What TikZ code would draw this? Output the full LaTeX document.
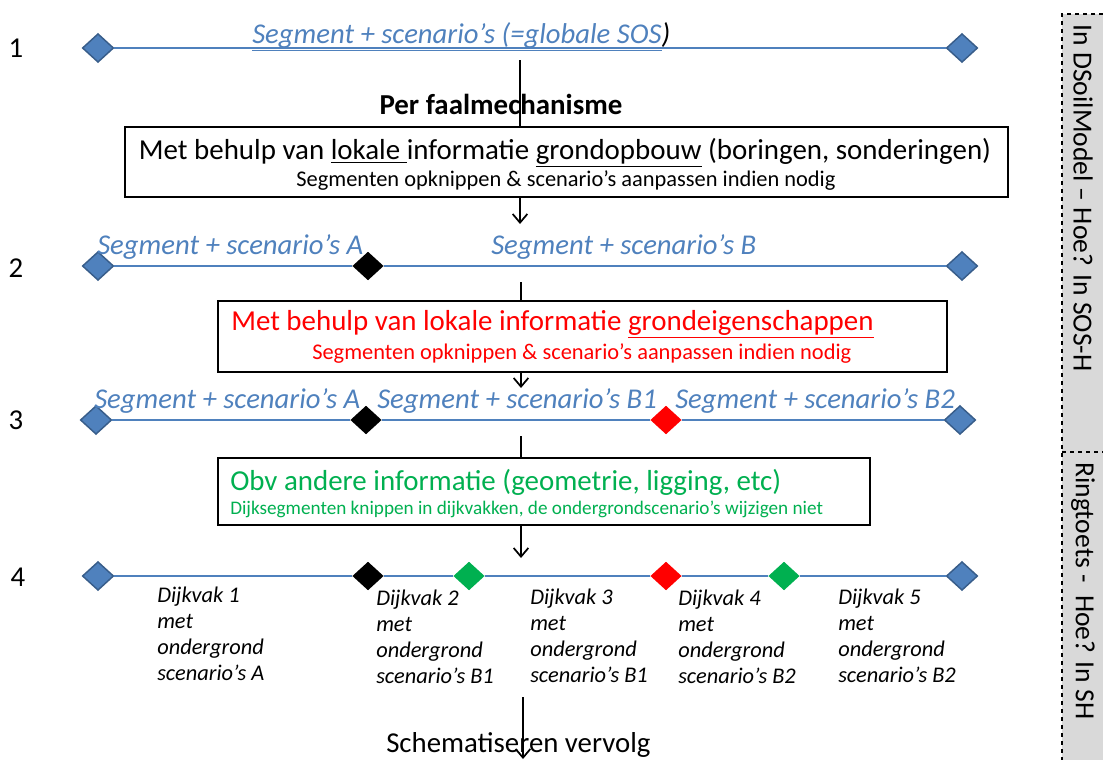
\documentclass[tikz,border=0pt]{standalone}
\usepackage{fontspec}
\setmainfont{Carlito}
\usetikzlibrary{shapes.geometric,arrows.meta}
\definecolor{segblue}{HTML}{4F81BD}
\definecolor{segborder}{HTML}{385D8A}
\definecolor{grn}{HTML}{00B050}
\definecolor{panel}{HTML}{D9D9D9}
\begin{document}
\begin{tikzpicture}[x=0.75pt,y=-0.75pt,
 dmd/.style={diamond,minimum width=23.5pt,minimum height=21.5pt,inner sep=0pt},
 bluedmd/.style={dmd,fill=segblue,draw=segborder,line width=1.1pt},
 blackdmd/.style={dmd,fill=black},
 reddmd/.style={dmd,fill=red},
 greendmd/.style={dmd,fill=grn},
 segline/.style={segblue,line width=2pt},
 seglabel/.style={font=\fontsize{21.5}{25}\selectfont\itshape,text=segblue,inner sep=0pt,anchor=west},
 box/.style={draw,line width=0.9pt,fill=white,inner sep=0pt},
 bigtxt/.style={font=\fontsize{21.7}{25}\selectfont,inner sep=0pt},
 smalltxt/.style={font=\fontsize{16.8}{20}\selectfont,inner sep=0pt},
 flow/.style={line width=1.5pt},
 arr/.style={flow,-{Straight Barb[length=6.5pt,width=11pt,line width=1.3pt]}},
 rowlabel/.style={font=\fontsize{21.6}{25}\selectfont,inner sep=0pt},
 dijk/.style={font=\fontsize{16.8}{19.4}\selectfont\itshape,align=left,anchor=north west,inner sep=0pt},
 sidetxt/.style={font=\fontsize{20.7}{24}\selectfont,rotate=-90,inner sep=0pt},
]
\useasboundingbox (0,0) rectangle (1103,760);

% side panel
\fill[panel] (1062,14) rectangle (1103,760);
\draw[dashed,line width=0.8pt] (1103,14) -- (1062,14) -- (1062,760);
\draw[dashed,line width=0.8pt] (1062,452) -- (1103,452);
\node[sidetxt] (side1) at (1083,198) {In DSoilModel – Hoe? In SOS-H};
\node[sidetxt] (side2) at (1083,591) {Ringtoets -\ \ Hoe? In SH};

% row labels
\node[rowlabel] (r1) at (16,48) {1};
\node[rowlabel] (r2) at (16,268) {2};
\node[rowlabel] (r3) at (16,420) {3};
\node[rowlabel] (r4) at (18,577) {4};

% row 1
\node[bluedmd] (d1a) at (98,48) {};
\node[bluedmd] (d1b) at (962,48) {};
\draw[segline] (d1a.east) -- (d1b.west);
\node[seglabel] (t1) at (252,37) {\underline{Segment + scenario’s (=globale SOS}{\color{black})}};

\node[font=\fontsize{21.7}{25}\selectfont\bfseries,inner sep=0pt] (pf) at (501,104) {Per faalmechanisme};

% box 1
\node[box,minimum width=662.25pt,minimum height=52.5pt] (b1) at (566.5,162) {};
\node[bigtxt] (b1t) at (565,153) {Met behulp van \underline{lokale }informatie \underline{grondopbouw} (boringen, sonderingen)};
\node[smalltxt] (b1s) at (566,181) {Segmenten opknippen \& scenario’s aanpassen indien nodig};

\coordinate (a1s) at (520,60);
\draw[flow] (a1s) -- (a1s |- b1.north);
\coordinate (a2e) at (520,224);
\draw[arr] (b1.south -| a2e) -- (a2e);

% row 2
\node[bluedmd] (d2a) at (98,266) {};
\node[blackdmd] (d2b) at (368,266) {};
\node[bluedmd] (d2c) at (962,266) {};
\draw[segline] (d2a.east) -- (d2b.west);
\draw[segline] (d2b.east) -- (d2c.west);
\node[seglabel] (t2a) at (97,247) {Segment + scenario’s A};
\node[seglabel] (t2b) at (491,247) {Segment + scenario’s B};

% box 2
\node[box,minimum width=546.75pt,minimum height=53.25pt] (b2) at (582.5,336.5) {};
\node[bigtxt,text=red,anchor=west] (b2t) at (231,324) {Met behulp van lokale informatie \underline{grondeigenschappen}};
\node[smalltxt,text=red,anchor=west] (b2s) at (312,354) {Segmenten opknippen \& scenario’s aanpassen indien nodig};

\coordinate (c3s) at (521,282);
\draw[flow] (c3s) -- (c3s |- b2.north);
\coordinate (a3e) at (521,388);
\draw[arr] (b2.south -| a3e) -- (a3e);

% row 3
\node[bluedmd] (d3a) at (96,420) {};
\node[blackdmd] (d3b) at (366,420) {};
\node[reddmd] (d3c) at (666,420) {};
\node[bluedmd] (d3d) at (960,420) {};
\draw[segline] (d3a.east) -- (d3b.west);
\draw[segline] (d3b.east) -- (d3c.west);
\draw[segline] (d3c.east) -- (d3d.west);
\node[seglabel] (t3a) at (94,401) {Segment + scenario’s A};
\node[seglabel] (t3b) at (377,401) {Segment + scenario’s B1};
\node[seglabel] (t3c) at (675,401) {Segment + scenario’s B2};

% box 3
\node[box,minimum width=489pt,minimum height=50.25pt] (b3) at (544,491.5) {};
\node[bigtxt,text=grn,anchor=west] (b3t) at (230,482) {Obv andere informatie (geometrie, ligging, etc)};
\node[font=\fontsize{14.4}{17}\selectfont,inner sep=0pt,text=grn,anchor=west] (b3s) at (230,509) {Dijksegmenten knippen in dijkvakken, de ondergrondscenario’s wijzigen niet};

\coordinate (e4s) at (521,436);
\draw[flow] (e4s) -- (e4s |- b3.north);
\coordinate (a4e) at (521,558);
\draw[arr] (b3.south -| a4e) -- (a4e);

% row 4
\node[bluedmd] (d4a) at (98,576) {};
\node[blackdmd] (d4b) at (368,576) {};
\node[greendmd] (d4c) at (469,576) {};
\node[reddmd] (d4d) at (666,576) {};
\node[greendmd] (d4e) at (784,576) {};
\node[bluedmd] (d4f) at (962,576) {};
\draw[segline] (d4a.east) -- (d4b.west);
\draw[segline] (d4b.east) -- (d4c.west);
\draw[segline] (d4c.east) -- (d4d.west);
\draw[segline] (d4d.east) -- (d4e.west);
\draw[segline] (d4e.east) -- (d4f.west);

\node[dijk] (k1) at (157,587) {Dijkvak 1\\met\\ondergrond\\scenario’s A};
\node[dijk] (k2) at (376,590) {Dijkvak 2\\met\\ondergrond\\scenario’s B1};
\node[dijk] (k3) at (530,589) {Dijkvak 3\\met\\ondergrond\\scenario’s B1};
\node[dijk] (k4) at (678,590) {Dijkvak 4\\met\\ondergrond\\scenario’s B2};
\node[dijk] (k5) at (838,589) {Dijkvak 5\\met\\ondergrond\\scenario’s B2};

% final
\node[font=\fontsize{21.6}{25}\selectfont,inner sep=0pt,anchor=west] (sv) at (386,745) {Schematiseren vervolg};
\coordinate (g5s) at (523,697);
\coordinate (g5e) at (523,759);
\draw[arr] (g5s) -- (g5e);
\end{tikzpicture}
\end{document}
